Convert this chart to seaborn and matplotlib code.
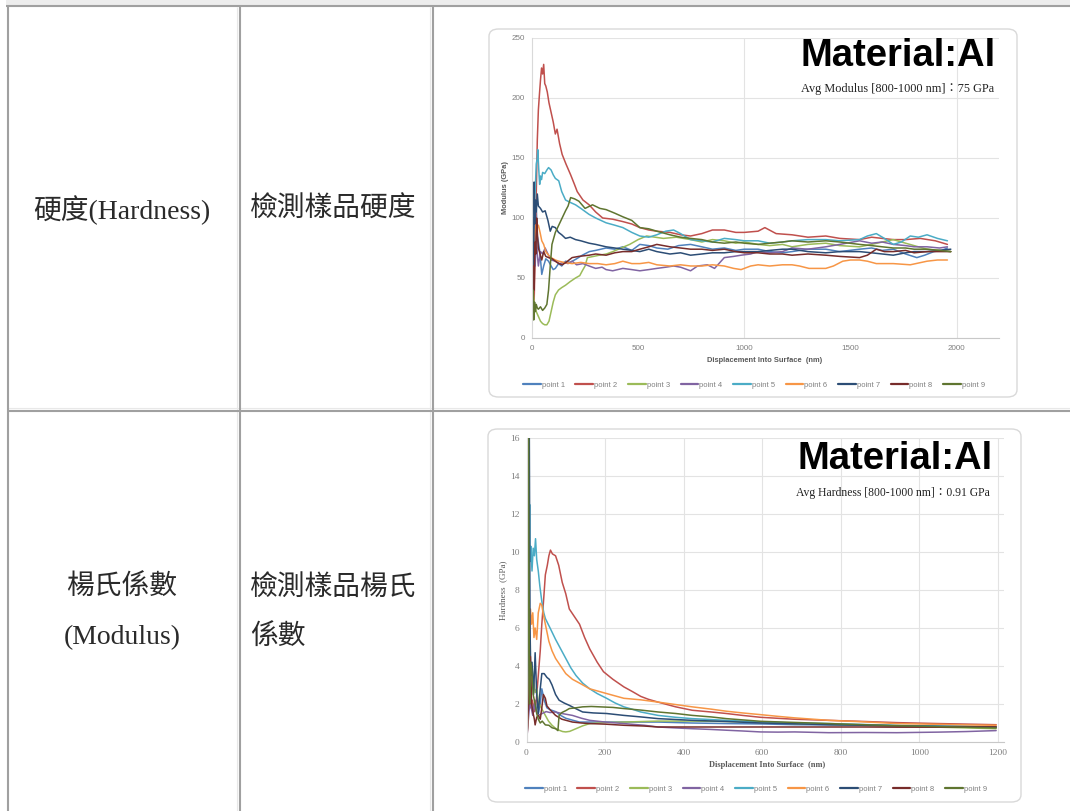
import numpy as np
import pandas as pd
import matplotlib.pyplot as plt
import seaborn as sns
from matplotlib.lines import Line2D
from matplotlib.patches import FancyBboxPatch, Rectangle

W, H = 1070, 811

# Series names and Excel-style colours
points = ["point 1", "point 2", "point 3", "point 4", "point 5",
          "point 6", "point 7", "point 8", "point 9"]
colors = ["#4F81BD", "#C0504D", "#9BBB59", "#8064A2", "#4BACC6",
          "#F79646", "#2C4D75", "#772C2A", "#5F7530"]

# Upper chart: modulus (GPa) vs displacement (nm), (x, y) pairs
mod_p1 = [(5, 60), (10, 95), (15, 70), (20, 110), (25, 85), (30, 80), (38, 70), (46, 53), (55, 60),
          (65, 66), (78, 64), (90, 60), (100, 57), (110, 58), (125, 62), (140, 60), (158, 64), (180, 63),
          (210, 66), (237, 69), (270, 72), (300, 73), (349, 75), (390, 74), (428, 76), (470, 73),
          (508, 78), (550, 77), (588, 75), (640, 74), (690, 77), (747, 78), (800, 76), (850, 74),
          (906, 75), (960, 73), (1000, 74), (1065, 74), (1120, 72), (1180, 71), (1225, 72), (1300, 74),
          (1384, 74), (1450, 72), (1543, 74), (1600, 75), (1650, 73), (1702, 74), (1760, 70),
          (1813, 67), (1850, 69), (1893, 72), (1930, 73), (1957, 75)]
mod_p2 = [(5, 40), (10, 30), (15, 70), (20, 120), (25, 165), (30, 190), (35, 203), (40, 215), (45, 225),
          (50, 220), (55, 228), (60, 212), (65, 210), (72, 205), (80, 196), (90, 188), (100, 180),
          (110, 170), (118, 174), (130, 162), (142, 153), (160, 145), (182, 136), (200, 128), (213, 122),
          (240, 115), (269, 111), (300, 105), (333, 100), (380, 99), (428, 97), (470, 95), (508, 92),
          (550, 90), (588, 89), (650, 88), (700, 86), (747, 85), (800, 87), (850, 90), (906, 90),
          (960, 88), (1000, 88), (1065, 89), (1097, 92), (1150, 87), (1225, 86), (1300, 84), (1384, 85),
          (1450, 83), (1543, 82), (1600, 84), (1650, 83), (1702, 82), (1760, 82), (1829, 83),
          (1900, 81), (1957, 78)]
mod_p3 = [(5, 40), (10, 30), (15, 25), (20, 22), (30, 18), (40, 14), (50, 12), (60, 11), (70, 11),
          (80, 14), (90, 22), (100, 30), (110, 36), (125, 40), (140, 42), (158, 44), (180, 47), (205, 50),
          (225, 52), (237, 56), (250, 60), (261, 67), (290, 68), (317, 69), (350, 70), (381, 72),
          (420, 75), (460, 78), (500, 82), (540, 85), (580, 84), (619, 83), (680, 84), (747, 82),
          (800, 80), (850, 82), (906, 81), (960, 79), (1000, 80), (1065, 78), (1120, 77), (1180, 78),
          (1225, 76), (1300, 78), (1384, 79), (1450, 77), (1543, 76), (1600, 78), (1650, 80),
          (1702, 82), (1760, 79), (1800, 77), (1861, 74), (1920, 73), (1973, 72)]
mod_p4 = [(5, 55), (10, 80), (15, 60), (20, 90), (25, 70), (30, 60), (40, 72), (50, 70), (62, 75),
          (75, 70), (90, 65), (110, 64), (130, 62), (150, 63), (170, 62), (189, 64), (210, 61),
          (240, 62), (269, 60), (300, 58), (330, 59), (349, 57), (380, 56), (428, 58), (470, 57),
          (508, 56), (550, 57), (588, 58), (630, 59), (667, 60), (700, 59), (747, 56), (780, 60),
          (826, 61), (860, 58), (906, 67), (950, 68), (985, 69), (1030, 70), (1065, 72), (1120, 71),
          (1180, 72), (1225, 75), (1300, 74), (1384, 76), (1450, 78), (1543, 81), (1600, 79),
          (1650, 80), (1702, 78), (1760, 77), (1800, 76), (1861, 76), (1920, 75), (1957, 76)]
mod_p5 = [(3, 100), (6, 123), (10, 110), (15, 122), (20, 145), (25, 150), (27, 157), (32, 140),
          (36, 128), (40, 135), (45, 132), (50, 138), (60, 137), (70, 140), (78, 142), (90, 140),
          (100, 136), (110, 133), (126, 131), (140, 122), (158, 115), (180, 113), (205, 111), (230, 108),
          (269, 103), (300, 100), (349, 96), (390, 94), (428, 92), (470, 88), (508, 85), (550, 84),
          (588, 86), (630, 89), (667, 90), (700, 87), (747, 82), (800, 81), (850, 80), (906, 83),
          (960, 82), (1000, 81), (1065, 81), (1120, 79), (1180, 80), (1225, 81), (1300, 82), (1384, 82),
          (1450, 81), (1543, 82), (1580, 85), (1622, 87), (1660, 83), (1702, 78), (1740, 80),
          (1782, 85), (1820, 84), (1861, 86), (1910, 83), (1957, 81)]
mod_p6 = [(5, 50), (10, 75), (15, 90), (20, 95), (25, 92), (30, 94), (38, 88), (46, 81), (55, 78),
          (65, 72), (78, 69), (90, 67), (100, 66), (110, 65), (126, 64), (150, 63), (189, 62), (230, 63),
          (269, 62), (310, 62), (349, 61), (390, 62), (428, 64), (470, 62), (508, 62), (550, 63),
          (588, 61), (650, 60), (700, 61), (747, 60), (800, 60), (850, 61), (906, 60), (950, 58),
          (985, 57), (1030, 60), (1065, 61), (1120, 60), (1180, 61), (1225, 61), (1260, 60), (1305, 58),
          (1384, 58), (1420, 60), (1464, 64), (1500, 65), (1543, 65), (1580, 64), (1622, 62),
          (1702, 62), (1782, 61), (1861, 64), (1910, 65), (1957, 65)]
mod_p7 = [(2, 50), (5, 100), (8, 60), (10, 130), (13, 95), (16, 115), (20, 105), (25, 120), (30, 110),
          (40, 108), (50, 105), (62, 106), (75, 98), (86, 89), (95, 93), (110, 92), (125, 88), (140, 86),
          (158, 83), (180, 84), (205, 82), (230, 81), (269, 79), (300, 78), (349, 76), (390, 75),
          (428, 74), (470, 73), (508, 72), (550, 74), (588, 72), (650, 70), (700, 71), (747, 69),
          (800, 70), (850, 71), (906, 71), (960, 72), (1000, 72), (1065, 72), (1120, 73), (1180, 74),
          (1225, 74), (1300, 72), (1384, 71), (1450, 72), (1543, 72), (1600, 71), (1650, 70),
          (1702, 69), (1760, 71), (1800, 72), (1861, 72), (1920, 73), (1973, 74)]
mod_p8 = [(2, 45), (5, 20), (8, 60), (10, 40), (14, 80), (18, 70), (22, 100), (26, 85), (30, 75),
          (38, 70), (46, 65), (55, 72), (65, 68), (78, 67), (95, 66), (110, 64), (126, 62), (142, 61),
          (160, 63), (189, 67), (220, 68), (269, 69), (300, 70), (349, 69), (390, 71), (428, 72),
          (470, 72), (508, 74), (550, 76), (588, 78), (650, 76), (700, 75), (747, 74), (800, 74),
          (850, 73), (906, 74), (960, 72), (1000, 71), (1065, 71), (1120, 70), (1180, 70), (1225, 69),
          (1300, 70), (1384, 69), (1450, 68), (1543, 67), (1580, 69), (1622, 74), (1660, 72),
          (1702, 72), (1760, 73), (1800, 71), (1861, 72), (1920, 72), (1973, 72)]
mod_p9 = [(2, 20), (5, 40), (8, 15), (12, 30), (16, 22), (20, 28), (25, 25), (30, 24), (40, 26),
          (50, 23), (60, 25), (70, 28), (78, 40), (86, 60), (94, 78), (110, 88), (126, 94), (142, 100),
          (158, 106), (170, 110), (182, 117), (200, 116), (221, 114), (250, 108), (285, 111), (320, 108),
          (349, 107), (390, 104), (428, 101), (470, 98), (508, 92), (550, 91), (588, 89), (650, 86),
          (700, 84), (747, 83), (800, 82), (850, 80), (906, 79), (960, 80), (1000, 79), (1065, 78),
          (1120, 79), (1180, 80), (1225, 81), (1300, 80), (1384, 81), (1450, 80), (1543, 78),
          (1600, 77), (1650, 76), (1702, 75), (1760, 75), (1800, 74), (1861, 74), (1920, 73), (1973, 72)]

# Lower chart: hardness (GPa) vs displacement (nm)
hard_p1 = [(1, 0.3), (3, 1.5), (5, 4.0), (8, 5.2), (10, 3.0), (13, 2.0), (17, 1.5), (22, 2.2), (26, 1.6),
           (30, 1.5), (35, 2.0), (39, 2.8), (45, 2.2), (52, 1.8), (60, 1.7), (74, 1.6), (87, 1.4),
           (100, 1.25), (117, 1.15), (135, 1.05), (160, 1.05), (204, 1.05), (250, 1.05), (335, 1.05),
           (420, 1.0), (509, 0.97), (600, 0.95), (683, 0.91), (770, 0.9), (857, 0.88), (950, 0.85),
           (1050, 0.83), (1120, 0.82), (1196, 0.79)]
hard_p2 = [(1, 0.2), (3, 0.8), (6, 2.5), (10, 1.8), (15, 2.2), (20, 1.6), (25, 2.2), (30, 3.5), (35, 4.8),
           (39, 6.2), (44, 7.6), (48, 8.8), (53, 9.3), (57, 9.8), (61, 10.1), (66, 9.9), (74, 9.8),
           (82, 9.3), (91, 8.4), (100, 7.8), (109, 7.0), (122, 6.6), (135, 6.2), (148, 5.5), (161, 4.9),
           (180, 4.2), (196, 3.7), (220, 3.3), (248, 2.9), (270, 2.65), (291, 2.4), (310, 2.25),
           (335, 2.1), (380, 1.85), (422, 1.67), (470, 1.58), (509, 1.5), (550, 1.4), (596, 1.3),
           (680, 1.2), (770, 1.14), (860, 1.08), (943, 1.02), (1050, 0.97), (1196, 0.91)]
hard_p3 = [(1, 0.2), (4, 1.5), (8, 2.5), (13, 4.0), (18, 3.3), (22, 2.6), (26, 2.8), (30, 2.1), (35, 1.9),
           (40, 1.7), (48, 1.4), (56, 1.1), (65, 0.88), (74, 0.72), (83, 0.62), (92, 0.55), (100, 0.53),
           (110, 0.56), (126, 0.7), (143, 0.85), (161, 0.97), (200, 1.02), (248, 1.05), (300, 1.08),
           (335, 1.1), (420, 1.1), (509, 1.08), (600, 1.03), (683, 0.97), (770, 0.93), (857, 0.88),
           (950, 0.83), (1050, 0.78), (1196, 0.7)]
hard_p4 = [(1, 0.2), (4, 1.0), (8, 2.0), (12, 1.8), (16, 1.4), (20, 2.0), (25, 1.6), (30, 1.4), (40, 1.5),
           (50, 1.6), (60, 1.55), (74, 1.58), (90, 1.5), (117, 1.4), (140, 1.25), (161, 1.14),
           (200, 1.05), (248, 0.97), (300, 0.88), (335, 0.79), (380, 0.74), (422, 0.7), (470, 0.66),
           (509, 0.62), (550, 0.58), (596, 0.53), (640, 0.52), (683, 0.53), (770, 0.49), (860, 0.5),
           (943, 0.49), (1050, 0.52), (1120, 0.55), (1196, 0.6)]
hard_p5 = [(1, 0.3), (4, 2.0), (6, 8.0), (8, 12.5), (9, 9.5), (11, 10.3), (14, 9.0), (17, 10.2),
           (20, 9.8), (23, 10.7), (26, 9.6), (28, 9.3), (30, 9.0), (34, 8.2), (39, 7.4), (44, 6.8),
           (48, 6.5), (60, 6.0), (74, 5.4), (87, 4.9), (100, 4.4), (113, 3.9), (126, 3.5), (143, 3.1),
           (161, 2.8), (180, 2.55), (204, 2.3), (226, 2.05), (248, 1.85), (270, 1.72), (291, 1.58),
           (335, 1.4), (380, 1.3), (422, 1.23), (509, 1.14), (596, 1.05), (683, 1.0), (770, 0.97),
           (860, 0.92), (943, 0.88), (1050, 0.84), (1196, 0.79)]
hard_p6 = [(1, 0.2), (4, 1.5), (7, 4.5), (10, 7.0), (13, 6.2), (16, 6.8), (19, 5.5), (22, 6.0), (26, 5.4),
           (30, 6.8), (35, 7.3), (39, 7.2), (43, 6.7), (50, 6.0), (57, 5.3), (65, 4.8), (74, 4.4),
           (87, 4.0), (100, 3.6), (117, 3.3), (135, 3.1), (161, 2.8), (204, 2.55), (248, 2.3),
           (291, 2.22), (335, 2.1), (380, 1.97), (422, 1.85), (470, 1.73), (509, 1.62), (550, 1.53),
           (596, 1.44), (640, 1.35), (683, 1.27), (770, 1.14), (860, 1.06), (943, 0.97), (1050, 0.93),
           (1120, 0.9), (1196, 0.88)]
hard_p7 = [(1, 0.2), (3, 2.0), (5, 8.0), (7, 17.0), (9, 6.0), (11, 3.5), (14, 4.2), (18, 2.5), (22, 4.7),
           (26, 2.5), (30, 1.5), (35, 2.8), (39, 3.6), (45, 3.6), (52, 3.4), (58, 3.3), (65, 3.0),
           (74, 2.5), (83, 2.2), (96, 2.05), (109, 1.93), (126, 1.75), (143, 1.58), (170, 1.53),
           (204, 1.5), (248, 1.4), (291, 1.32), (335, 1.23), (422, 1.14), (509, 1.08), (596, 1.0),
           (683, 0.96), (770, 0.91), (860, 0.88), (943, 0.85), (1050, 0.82), (1196, 0.79)]
hard_p8 = [(1, 0.2), (4, 1.5), (7, 2.5), (10, 4.5), (13, 2.0), (17, 1.5), (20, 1.2), (22, 0.9), (26, 1.3),
           (30, 1.4), (35, 1.2), (39, 1.8), (43, 2.5), (48, 2.3), (52, 1.9), (60, 1.7), (74, 1.4),
           (90, 1.2), (117, 1.05), (140, 1.0), (161, 0.97), (200, 0.94), (248, 0.88), (300, 0.84),
           (335, 0.79), (420, 0.79), (509, 0.79), (600, 0.79), (683, 0.79), (770, 0.79), (857, 0.79),
           (950, 0.78), (1050, 0.78), (1196, 0.79)]
hard_p9 = [(1, 0.2), (3, 3.0), (5, 17.0), (6, 10.0), (8, 2.0), (10, 4.2), (13, 3.9), (17, 2.5), (22, 2.0),
           (26, 1.5), (30, 1.2), (35, 1.0), (40, 1.1), (48, 0.9), (57, 0.88), (65, 0.75), (74, 0.7),
           (80, 0.6), (83, 1.4), (90, 1.55), (100, 1.65), (109, 1.76), (126, 1.8), (143, 1.85),
           (165, 1.87), (187, 1.85), (220, 1.82), (248, 1.76), (291, 1.68), (335, 1.58), (380, 1.5),
           (422, 1.4), (470, 1.32), (509, 1.23), (596, 1.09), (683, 1.03), (770, 0.97), (860, 0.91),
           (943, 0.86), (1050, 0.81), (1196, 0.74)]

mod_series = [mod_p1, mod_p2, mod_p3, mod_p4, mod_p5, mod_p6, mod_p7, mod_p8, mod_p9]
hard_series = [hard_p1, hard_p2, hard_p3, hard_p4, hard_p5, hard_p6, hard_p7, hard_p8, hard_p9]

mod_yticks = [0, 50, 100, 150, 200, 250]
mod_xticks = [0, 500, 1000, 1500, 2000]
hard_yticks = [0, 2, 4, 6, 8, 10, 12, 14, 16]
hard_xticks = [0, 200, 400, 600, 800, 1000, 1200]

row_labels = [["硬度(Hardness)"], ["楊氏係數", "(Modulus)"]]
row_desc = [["檢測樣品硬度"], ["檢測樣品楊氏", "係數"]]


def long_df(series):
    frames = []
    for name, pts in zip(points, series):
        arr = np.array(pts, dtype=float)
        frames.append(pd.DataFrame({"x": arr[:, 0], "y": arr[:, 1], "point": name}))
    return pd.concat(frames, ignore_index=True)


sns.set_style("white")
plt.rcParams["font.family"] = ["Liberation Sans", "Noto Sans CJK TC"]

fig = plt.figure(figsize=(W / 100, H / 100), dpi=100)
fig.patch.set_facecolor("white")


def fx(px):
    return px / W


def fy(py):
    return 1 - py / H


def fline(x0, y0, x1, y1, color="#a0a0a0", lw=1.5):
    fig.add_artist(Line2D([fx(x0), fx(x1)], [fy(y0), fy(y1)], color=color, lw=lw,
                          transform=fig.transFigure, solid_capstyle="butt"))


# table frame
fig.add_artist(Rectangle((fx(6), fy(5)), fx(1070) - fx(6), fy(0) - fy(5), transform=fig.transFigure,
                         facecolor="#ededed", edgecolor="none"))
for x in [237, 430]:
    fline(x, 7, x, 811, color="#e8e8e8", lw=0.8)
fline(7, 408, 1070, 408, color="#e8e8e8", lw=0.8)
fline(6, 6, 1070, 6)
fline(8, 6, 8, 811)
fline(240, 6, 240, 811)
fline(433, 6, 433, 811)
fline(7, 410.5, 1070, 410.5)

# table text
cell_font = ["Liberation Serif", "Noto Sans CJK TC"]
txt_kw = dict(fontsize=20, family=cell_font, color="#2a2a2a", fontweight="light")
fig.text(fx(122), fy(210), row_labels[0][0], ha="center", va="center", **txt_kw)
fig.text(fx(250), fy(210), row_desc[0][0], ha="left", va="center", **txt_kw)
for i, line in enumerate(row_labels[1]):
    fig.text(fx(122), fy(588 + 50 * i), line, ha="center", va="center", **txt_kw)
for i, line in enumerate(row_desc[1]):
    fig.text(fx(250), fy(588 + 50 * i), line, ha="left", va="center", **txt_kw)

# chart frames
for (x0, y0, x1, y1) in [(489, 29, 1017, 397), (488, 429, 1021, 802)]:
    fig.add_artist(FancyBboxPatch((fx(x0), fy(y1)), fx(x1) - fx(x0), fy(y0) - fy(y1),
                                  boxstyle="round,pad=0,rounding_size=0.009",
                                  transform=fig.transFigure, fill=False,
                                  edgecolor="#d9d9d9", lw=1.0))


def style_axes(ax, tick_family, tick_size):
    ax.set_facecolor("white")
    for s in ["top", "right"]:
        ax.spines[s].set_visible(False)
    ax.spines["left"].set_color("#d9d9d9")
    ax.spines["bottom"].set_color("#c8c8c8")
    ax.spines["left"].set_linewidth(0.8)
    ax.spines["bottom"].set_linewidth(0.8)
    ax.tick_params(length=0, pad=5, labelsize=tick_size, labelcolor="#7f7f7f")
    for lab in ax.get_xticklabels() + ax.get_yticklabels():
        lab.set_family(tick_family)
    ax.set_axisbelow(True)


def add_legend(ax, cx, cy):
    handles, labels = ax.get_legend_handles_labels()
    for h in handles:
        h.set_linewidth(1.6)
    ax.legend(handles, labels, loc="center", bbox_to_anchor=(cx, cy), ncol=9, frameon=False,
              handlelength=2.3, handletextpad=0.15, columnspacing=1.4,
              labelcolor="#808080", prop={"family": "Liberation Sans", "size": 5.5})


# ---- upper chart: modulus ----
ax1 = fig.add_axes([fx(532), fy(338), fx(999) - fx(532), fy(38) - fy(338)])
df_mod = long_df(mod_series)
sns.lineplot(data=df_mod, x="x", y="y", hue="point", palette=colors, estimator=None,
             sort=False, linewidth=1.1, ax=ax1)
ax1.set_xlim(0, 2200)
ax1.set_ylim(0, 250)
ax1.set_xticks(mod_xticks)
ax1.set_yticks(mod_yticks)
ax1.yaxis.grid(True, color="#e3e3e3", lw=0.8)
for gx in [1000, 2000]:
    ax1.axvline(gx, color="#e3e3e3", lw=0.8, zorder=0)
style_axes(ax1, "Liberation Sans", 5.8)
ax1.set_xlabel("Displacement Into Surface  (nm)", fontsize=5.4, fontweight="bold",
               color="#595959", family="Liberation Sans")
ax1.set_ylabel("Modulus (GPa)", fontsize=5.4, fontweight="bold", color="#595959",
               family="Liberation Sans")
ax1.xaxis.set_label_coords((765 - 532) / 467, (338 - 357) / 300)
ax1.yaxis.set_label_coords((509 - 532) / 467, 0.5)
add_legend(ax1, (754 - 532) / 467, (338 - 385) / 300)

fig.text(fx(996), fy(56), "Material:Al", ha="right", va="center", fontsize=27.5,
         fontweight="bold", family="Liberation Sans", color="black")
fig.text(fx(994), fy(89), "Avg Modulus [800-1000 nm]：75 GPa", ha="right", va="center",
         fontsize=8.8, family=["Liberation Serif", "Noto Sans CJK TC"], color="#222222")

# ---- lower chart: hardness ----
ax2 = fig.add_axes([fx(526.5), fy(742), fx(1004) - fx(526.5), fy(438) - fy(742)])
df_hard = long_df(hard_series)
sns.lineplot(data=df_hard, x="x", y="y", hue="point", palette=colors, estimator=None,
             sort=False, linewidth=1.1, ax=ax2)
ax2.set_xlim(0, 1216)
ax2.set_ylim(0, 16)
ax2.set_xticks(hard_xticks)
ax2.set_yticks(hard_yticks)
ax2.grid(True, color="#e3e3e3", lw=0.8)
style_axes(ax2, "Liberation Serif", 6.8)
ax2.set_xlabel("Displacement Into Surface  (nm)", fontsize=6, fontweight="bold",
               color="#595959", family="Liberation Serif")
ax2.set_ylabel("Hardness  (GPa)", fontsize=6.5, color="#595959", family="Liberation Serif")
ax2.xaxis.set_label_coords((767 - 526.5) / 477.5, (742 - 761) / 304)
ax2.yaxis.set_label_coords((507 - 526.5) / 477.5, 0.5)
add_legend(ax2, (756 - 526.5) / 477.5, (742 - 789) / 304)

fig.text(fx(993), fy(459), "Material:Al", ha="right", va="center", fontsize=27.5,
         fontweight="bold", family="Liberation Sans", color="black")
fig.text(fx(990), fy(493), "Avg Hardness [800-1000 nm]：0.91 GPa", ha="right", va="center",
         fontsize=8.4, family=["Liberation Serif", "Noto Sans CJK TC"], color="#222222")

fig.savefig("out.png", dpi=100)
